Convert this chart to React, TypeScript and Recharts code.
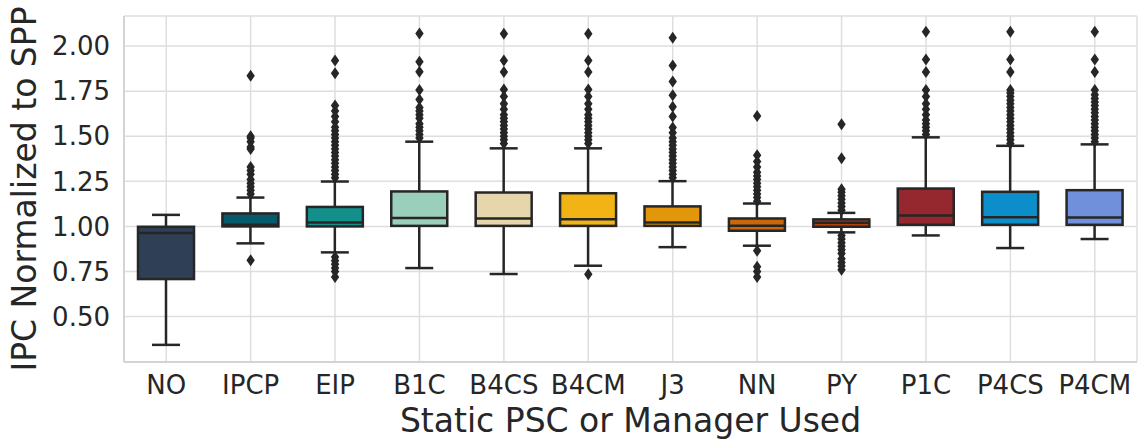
import React from 'react';
import {
  ComposedChart,
  Bar,
  Scatter,
  XAxis,
  YAxis,
  CartesianGrid,
} from 'recharts';

// Box statistics per manager.
const categories = ['NO', 'IPCP', 'EIP', 'B1C', 'B4CS', 'B4CM', 'J3', 'NN', 'PY', 'P1C', 'P4CS', 'P4CM'];
const whiskerLow = [0.343, 0.906, 0.856, 0.769, 0.736, 0.782, 0.885, 0.893, 0.967, 0.950, 0.880, 0.930];
const q1 = [0.708, 1.000, 1.000, 1.003, 1.003, 1.003, 1.003, 0.976, 0.998, 1.009, 1.009, 1.009];
const medians = [0.963, 1.009, 1.022, 1.046, 1.044, 1.040, 1.022, 1.003, 1.020, 1.061, 1.051, 1.049];
const q3 = [0.998, 1.072, 1.108, 1.194, 1.188, 1.184, 1.111, 1.044, 1.039, 1.210, 1.192, 1.201];
const whiskerHigh = [1.064, 1.160, 1.249, 1.470, 1.433, 1.433, 1.251, 1.127, 1.075, 1.494, 1.447, 1.455];

// Fliers, one list per manager.
const outliersNO: number[] = [];
const outliersIPCP = [0.813, 1.18, 1.20, 1.22, 1.24, 1.26, 1.29, 1.31, 1.33, 1.43, 1.44, 1.47, 1.49, 1.50, 1.836];
const outliersEIP = [0.72, 0.75, 0.77, 0.79, 0.81, 0.83, 1.27, 1.29, 1.31, 1.33, 1.35, 1.37, 1.39, 1.41, 1.43, 1.45, 1.47, 1.49, 1.51, 1.53, 1.55, 1.58, 1.61, 1.64, 1.67, 1.85, 1.92];
const outliersB1C = [1.49, 1.51, 1.53, 1.55, 1.57, 1.60, 1.62, 1.64, 1.66, 1.704, 1.756, 1.858, 1.913, 2.07];
const outliersB4CS = [1.46, 1.48, 1.50, 1.52, 1.54, 1.56, 1.58, 1.60, 1.62, 1.65, 1.68, 1.72, 1.76, 1.856, 1.92, 2.068];
const outliersB4CM = [0.734, 1.46, 1.48, 1.50, 1.52, 1.54, 1.56, 1.58, 1.60, 1.62, 1.65, 1.68, 1.72, 1.76, 1.856, 1.92, 2.068];
const outliersJ3 = [1.27, 1.29, 1.31, 1.33, 1.35, 1.37, 1.39, 1.41, 1.43, 1.45, 1.47, 1.49, 1.52, 1.548, 1.609, 1.664, 1.727, 1.804, 1.893, 2.046];
const outliersNN = [0.72, 0.75, 0.776, 0.865, 1.14, 1.16, 1.18, 1.20, 1.22, 1.24, 1.26, 1.28, 1.30, 1.33, 1.36, 1.395, 1.612];
const outliersPY = [0.76, 0.78, 0.80, 0.82, 0.85, 0.87, 0.89, 0.91, 0.93, 0.95, 1.09, 1.11, 1.13, 1.15, 1.17, 1.19, 1.206, 1.378, 1.566];
const outliersP1C = [1.51, 1.53, 1.55, 1.57, 1.59, 1.62, 1.65, 1.68, 1.72, 1.756, 1.856, 1.926, 2.079];
const outliersP4CS = [1.46, 1.48, 1.50, 1.52, 1.54, 1.56, 1.58, 1.60, 1.62, 1.64, 1.66, 1.68, 1.70, 1.72, 1.74, 1.756, 1.856, 1.926, 2.079];
const outliersP4CM = [1.47, 1.49, 1.51, 1.53, 1.55, 1.57, 1.59, 1.61, 1.63, 1.65, 1.67, 1.69, 1.71, 1.73, 1.756, 1.856, 1.926, 2.079];

const yTicks = [0.5, 0.75, 1.0, 1.25, 1.5, 1.75, 2.0];

const palette = ['#2e3f56', '#075a6c', '#138f8c', '#9acfbb', '#e6d6ab', '#f1b414', '#e1960c', '#c8680a', '#b5400e', '#95272e', '#0b8ec9', '#7090dc'];

const INK = '#262626';
const FONT = '"DejaVu Sans", Verdana, sans-serif';

const outlierLists = [outliersNO, outliersIPCP, outliersEIP, outliersB1C, outliersB4CS, outliersB4CM, outliersJ3, outliersNN, outliersPY, outliersP1C, outliersP4CS, outliersP4CM];

const rows = categories.map((name, i) => ({
  name,
  lo: whiskerLow[i],
  q1: q1[i],
  med: medians[i],
  q3: q3[i],
  hi: whiskerHigh[i],
  fill: palette[i],
}));

const fliers = categories.flatMap((name, i) => outlierLists[i].map((v) => ({ name, v })));

// The bar spans lo..hi on the y scale; the rest of the box is placed inside that span.
const BoxShape = (props: any) => {
  const { x, y, width, height, payload } = props;
  if (!payload) return null;
  const top = Math.min(y, y + height);
  const bot = Math.max(y, y + height);
  const span = payload.hi - payload.lo;
  const py = (v: number) => top + ((payload.hi - v) / span) * (bot - top);
  const cx = x + width / 2;
  const cap = width / 4;
  const yq3 = py(payload.q3);
  const yq1 = py(payload.q1);
  const ym = py(payload.med);
  return (
    <g>
      <line x1={cx} x2={cx} y1={top} y2={yq3} stroke={INK} strokeWidth={2.5} />
      <line x1={cx} x2={cx} y1={yq1} y2={bot} stroke={INK} strokeWidth={2.5} />
      <line x1={cx - cap} x2={cx + cap} y1={top} y2={top} stroke={INK} strokeWidth={2.5} />
      <line x1={cx - cap} x2={cx + cap} y1={bot} y2={bot} stroke={INK} strokeWidth={2.5} />
      <rect x={x} y={yq3} width={width} height={Math.max(yq1 - yq3, 0.5)} fill={payload.fill} stroke={INK} strokeWidth={2.5} />
      <line x1={x} x2={x + width} y1={ym} y2={ym} stroke={INK} strokeWidth={2.5} />
    </g>
  );
};

const Diamond = (props: any) => {
  const { cx, cy } = props;
  if (cx == null || cy == null) return null;
  return <polygon points={`${cx},${cy - 6} ${cx + 4.2},${cy} ${cx},${cy + 6} ${cx - 4.2},${cy}`} fill={INK} />;
};

export default function App() {
  return (
    <div style={{ position: 'absolute', left: 0, top: 0, background: '#fff', fontFamily: FONT }}>
      <ComposedChart width={1142} height={442} data={rows} margin={{ top: 16, right: 5, bottom: 0, left: 0 }}>
        <CartesianGrid stroke="#dedede" strokeWidth={1.5} ticks={yTicks as any} />
        <XAxis
          dataKey="name"
          type="category"
          allowDuplicatedCategory={false}
          height={80}
          tickLine={false}
          tickSize={0}
          tickMargin={14}
          axisLine={{ stroke: '#d4d4d4', strokeWidth: 2 }}
          tick={{ fontSize: 26, fill: INK, fontFamily: FONT }}
          label={{ value: 'Static PSC or Manager Used', position: 'insideBottom', offset: 10, style: { fontSize: 33, fill: INK, fontFamily: FONT } }}
        />
        <XAxis xAxisId="top" orientation="top" dataKey="name" height={0} tick={false} tickLine={false} axisLine={{ stroke: '#d4d4d4', strokeWidth: 2 }} />
        <YAxis
          type="number"
          domain={[0.248, 2.167]}
          ticks={yTicks}
          tickFormatter={(v: number) => v.toFixed(2)}
          width={124}
          tickLine={false}
          tickSize={0}
          tickMargin={14}
          axisLine={{ stroke: '#d4d4d4', strokeWidth: 2 }}
          tick={{ fontSize: 26, fill: INK, fontFamily: FONT }}
          label={{ value: 'IPC Normalized to SPP', angle: -90, position: 'insideLeft', offset: 24, style: { fontSize: 33, fill: INK, fontFamily: FONT, textAnchor: 'middle' } }}
        />
        <YAxis yAxisId="right" orientation="right" width={0} domain={[0.248, 2.167]} tick={false} tickLine={false} axisLine={{ stroke: '#d4d4d4', strokeWidth: 2 }} />
        <Bar dataKey={(d: any) => [d.lo, d.hi]} barSize={56} shape={BoxShape} isAnimationActive={false} />
        <Scatter data={fliers} dataKey="v" shape={Diamond} isAnimationActive={false} />
      </ComposedChart>
    </div>
  );
}
